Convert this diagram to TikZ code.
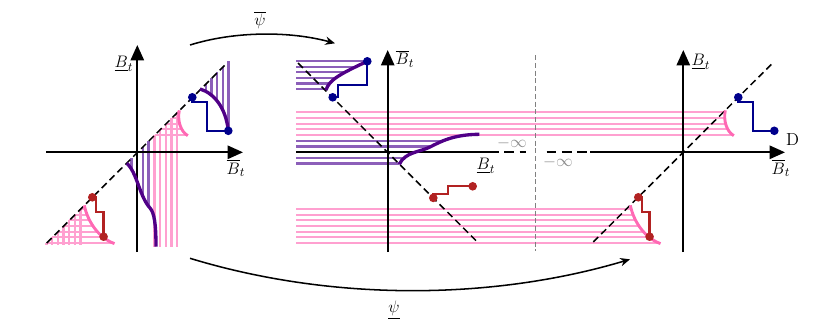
\documentclass[tikz,border=0pt]{standalone}
\usepackage{amsmath, amssymb}
\usepackage{tikz}
\usetikzlibrary{arrows.meta}

\definecolor{hatchpink}{RGB}{255,160,208}
\definecolor{curvepink}{RGB}{255,105,180}
\definecolor{hatchpurple}{RGB}{140,95,185}
\definecolor{curvepurple}{RGB}{80,0,135}
\definecolor{stepblue}{RGB}{0,0,140}
\definecolor{stepred}{RGB}{178,34,34}

\begin{document}
\begin{tikzpicture}[x=0.72pt, y=-0.72pt, font=\fontsize{12.5}{15}\selectfont,
  axis/.style={line width=1.4pt, -{Triangle[length=11pt, width=9.5pt]}},
  plainaxis/.style={line width=1.4pt},
  diag/.style={line width=1.1pt, dash pattern=on 5pt off 3pt},
  infdash/.style={line width=1.2pt, dash pattern=on 7pt off 4pt},
  divider/.style={gray, line width=0.7pt, dash pattern=on 3.6pt off 2pt},
  pinkhatch/.style={hatchpink, line width=1.65pt},
  purplehatch/.style={hatchpurple, line width=1.65pt},
  pinkcurve/.style={curvepink, line width=2.1pt},
  purplecurve/.style={curvepurple, line width=2.4pt},
  bluestep/.style={stepblue, line width=1.6pt},
  redstep/.style={stepred, line width=1.6pt},
  mapto/.style={line width=1.1pt, -{Stealth[length=7pt, width=6pt]}},
  lbl/.style={inner sep=0pt},
  minf/.style={black!45, inner sep=0pt}
]
\useasboundingbox (0,0) rectangle (831,328);

\coordinate (oL) at (137.3,152.3);
\coordinate (oM) at (387.7,152.3);
\coordinate (oR) at (683.3,152.3);

% hatching, left panel
\begin{scope}[shift={(oL)}]
  \foreach \dk in {17.3,23,28.6,34.3,40}
    \draw[pinkhatch] (\dk,-\dk) -- (\dk,94.4);
  \begin{scope}
    \clip (0,-50) -- (42,-50) -- (42,-42) .. controls (40,-32) and (43,-21) .. (50.5,-16.6) -- (50.5,-10) -- (0,-10) -- cycle;
    \foreach \dk in {17.3,23,28.6,34.3,40}
      \draw[pinkhatch] (\dk,-\dk) -- (60,-\dk);
  \end{scope}
  \begin{scope}
    \clip (-100,40) -- (-53,40) -- (-53,53) .. controls (-49.5,70) and (-38,86) .. (-22.8,91.3) -- (-22.8,100) -- (-100,100) -- cycle;
    \foreach \dk in {56.7,62.4,68,73.7,79.4,85,90.7}
      \draw[pinkhatch] (-\dk,\dk) -- (0,\dk);
  \end{scope}
  \foreach \dk in {56.7,62.4,68,73.7,79.4,85,90.7}
    \draw[pinkhatch] (-\dk,\dk) -- (-\dk,92.5);
  \begin{scope}
    \clip (-10.6,11) .. controls (-0.3,19.7) and (2,44) .. (12.7,55.7) .. controls (17,60.4) and (18.7,72) .. (18.7,94.4) -- (30,94.4) -- (30,-30) -- (-10.6,-30) -- cycle;
    \foreach \dk in {-5.7,0,5.7,11.3}
      \draw[purplehatch] ({\dk},{-(\dk)}) -- ({\dk},95);
  \end{scope}
  \begin{scope}
    \clip (62.7,-63.3) .. controls (76.7,-59.3) and (88.7,-44.3) .. (91,-21.5) -- (100,-21.5) -- (100,-100) -- (55,-100) -- (55,-63.3) -- cycle;
    \foreach \dk in {63,68.7,74.3,80,85.6,91.3}
      \draw[purplehatch] (\dk,-\dk) -- (\dk,0);
  \end{scope}
\end{scope}

% hatching, middle panel
\begin{scope}[shift={(oM)}]
  \begin{scope}
    \clip (-100,-100) -- (-20.4,-100) -- (-20.4,-91) .. controls (-47.7,-78.3) and (-58.7,-72.3) .. (-61.7,-62.3) -- (-61.7,-55) -- (-100,-55) -- cycle;
    \foreach \dk in {63,68.7,74.3,80,85.6,91.3}
      \draw[purplehatch] (-91.7,-\dk) -- (0,-\dk);
  \end{scope}
  \begin{scope}
    \clip (-100,-25) -- (91.6,-25) -- (91.6,-18) .. controls (65,-17.8) and (52.3,-10.3) .. (42.3,-5.3) .. controls (32.3,-0.3) and (17.3,-0.3) .. (11.6,12) -- (11.6,20) -- (-100,20) -- cycle;
    \foreach \dk in {-11.3,-5.7,0,5.7,11.3}
      \draw[purplehatch] (-91.7,\dk) -- (100,\dk);
  \end{scope}
\end{scope}

% pink bands through middle and right panels
\begin{scope}[shift={(oR)}]
  \begin{scope}
    \clip (-400,-50) -- (42,-50) -- (42,-42) .. controls (40,-32) and (43,-21) .. (50.5,-16.6) -- (50.5,-10) -- (-400,-10) -- cycle;
    \foreach \dk in {17.3,23,28.6,34.3,40}
      \draw[pinkhatch] (-387.3,-\dk) -- (60,-\dk);
  \end{scope}
  \begin{scope}
    \clip (-400,40) -- (-53,40) -- (-53,53) .. controls (-49.5,70) and (-38,86) .. (-22.8,91.3) -- (-22.8,100) -- (-400,100) -- cycle;
    \foreach \dk in {56.7,62.4,68,73.7,79.4,85,90.7}
      \draw[pinkhatch] (-387.3,\dk) -- (0,\dk);
  \end{scope}
\end{scope}

% axes
\draw[axis] (137.3,252) -- (137.3,45);
\draw[axis] (46,152.3) -- (243,152.3);
\draw[diag] (46.7,243) -- (225,65);

\draw[axis] (387.7,252) -- (387.7,50);
\draw[plainaxis] (296,152.3) -- (489,152.3);
\draw[infdash] (489,152.3) -- (526,152.3);
\draw[diag] (298,63) -- (478,242.6);

\draw[divider] (535.7,55) -- (535.7,251);

\draw[axis] (683.3,252) -- (683.3,50);
\draw[infdash] (546.7,152.3) -- (590,152.3);
\draw[axis] (590,152.3) -- (785,152.3);
\draw[diag] (593.3,242) -- (771.7,64);

% curves and steps
\foreach \o in {oL,oR} {
  \begin{scope}[shift={(\o)}]
    \draw[pinkcurve] (42,-42) .. controls (40,-32) and (43,-21) .. (50.5,-16.6);
    \draw[pinkcurve] (-53,53) .. controls (-49.5,70) and (-38,86) .. (-22.8,91.3);
    \draw[bluestep] (55,-55) |- (69.5,-50.5) |- (91,-21.5);
    \draw[redstep] (-45,45) -| (-41.3,59.7) -| (-33.7,84.4);
  \end{scope}
}

\begin{scope}[shift={(oL)}]
  \draw[purplecurve] (-10.6,11) .. controls (-0.3,19.7) and (2,44) .. (12.7,55.7) .. controls (17,60.4) and (18.7,72) .. (18.7,94.4);
  \draw[purplecurve] (62.7,-63.3) .. controls (76.7,-59.3) and (88.7,-44.3) .. (91,-21.5);
\end{scope}

\begin{scope}[shift={(oM)}]
  \draw[purplecurve] (-61.7,-62.3) .. controls (-58.7,-72.3) and (-47.7,-78.3) .. (-20.4,-91);
  \draw[purplecurve] (11.6,12) .. controls (17.3,-0.3) and (32.3,-0.3) .. (42.3,-5.3) .. controls (52.3,-10.3) and (65,-17.8) .. (91.6,-18);
  \draw[bluestep] (-20.4,-91) |- (-49.4,-67.3) |- (-55,-55);
  \draw[redstep] (45.6,45.6) |- (60.6,42) |- (85,34);
  \fill[stepblue] (-20.4,-91) circle[radius=3.1pt] (-55,-55) circle[radius=3.1pt];
  \fill[stepred] (45.6,45.6) circle[radius=3.1pt] (85,34) circle[radius=3.1pt];
\end{scope}

\foreach \o in {oL,oR} {
  \begin{scope}[shift={(\o)}]
    \fill[stepblue] (55,-55) circle[radius=3.1pt] (91,-21.5) circle[radius=3.1pt];
    \fill[stepred] (-45,45) circle[radius=3.1pt] (-33.7,84.4) circle[radius=3.1pt];
  \end{scope}
}

% labels
\node[lbl] (yL) at (124,64) {$\underline{B}_t$};
\node[lbl] (xL) at (236,168) {$\overline{B}_t$};
\node[lbl] (yM) at (405,58.5) {$\overline{B}_t$};
\node[lbl] (xM) at (486,166) {$\underline{B}_t$};
\node[minf] (infM) at (512,143) {$-\infty$};
\node[minf] (infR) at (558,162) {$-\infty$};
\node[lbl] (yR) at (701,62) {$\underline{B}_t$};
\node[lbl] (xR) at (781,168) {$\overline{B}_t$};
\node[lbl] (dR) at (792.5,139.5) {D};

% maps
\coordinate (psibarS) at (190,45);
\coordinate (psibarE) at (335,43.3);
\coordinate (psiS) at (190,258.3);
\coordinate (psiE) at (630,259.3);
\draw[mapto] (psibarS) .. controls (235,31) and (290,31) .. (psibarE);
\draw[mapto] (psiS) .. controls (330,301) and (490,301) .. (psiE);
\node[lbl] (psibar) at (260,20) {$\overline{\psi}$};
\node[lbl] (psi) at (394,310) {$\underline{\psi}$};
\end{tikzpicture}
\end{document}
